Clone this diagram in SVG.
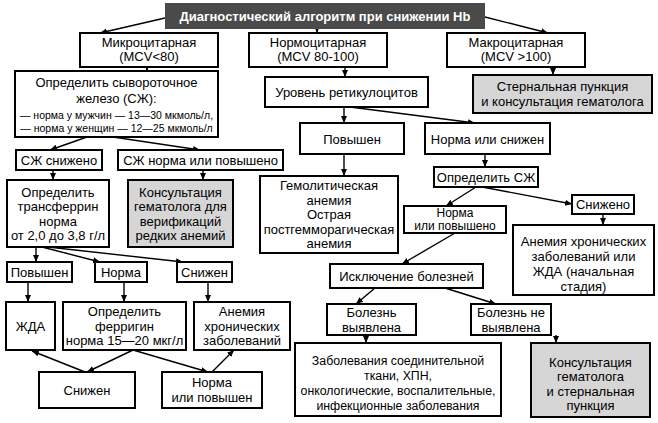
<svg xmlns="http://www.w3.org/2000/svg" width="658" height="423" viewBox="0 0 658 423">
<defs>
<marker id="ah" markerWidth="8" markerHeight="8" refX="7" refY="4" orient="auto" markerUnits="userSpaceOnUse"><path d="M0,1 L7,4 L0,7 z" fill="#000"/></marker>
<style>
rect{fill:#fff;stroke:#000;stroke-width:2}
rect.g{fill:#d6d6d6}
rect.t{fill:#4a4a4a;stroke:none}
text{font-family:"Liberation Sans",Arial,sans-serif;font-size:13px;fill:#000;text-anchor:middle}
text.s{font-size:10.5px}
text.m{font-size:12.3px}
text.n{font-size:12px}
text.h{font-weight:bold;fill:#fff}
#conn line{stroke:#000;stroke-width:1.4;marker-end:url(#ah)}
</style>
</defs>
<rect width="658" height="423" style="fill:#fff;stroke:none"/>
<g id="conn">
<line x1="165" y1="18" x2="100" y2="33"/>
<line x1="317" y1="27" x2="317" y2="33"/>
<line x1="485" y1="17" x2="548" y2="33"/>
<line x1="147" y1="66" x2="147" y2="71"/>
<line x1="345" y1="67" x2="345" y2="77"/>
<line x1="553" y1="67" x2="553" y2="75"/>
<line x1="87" y1="137" x2="50" y2="150"/>
<line x1="113" y1="137" x2="200" y2="150"/>
<line x1="53" y1="170" x2="53" y2="180"/>
<line x1="203" y1="170" x2="203" y2="180"/>
<line x1="344" y1="107" x2="344" y2="123"/>
<line x1="350" y1="107" x2="475" y2="123"/>
<line x1="344" y1="154" x2="344" y2="176"/>
<line x1="485" y1="154" x2="485" y2="167"/>
<line x1="476" y1="187" x2="446" y2="206"/>
<line x1="482" y1="187" x2="572" y2="204"/>
<line x1="603" y1="214" x2="603" y2="225"/>
<line x1="455" y1="233" x2="402" y2="264"/>
<line x1="375" y1="288" x2="356" y2="304"/>
<line x1="445" y1="288" x2="496" y2="304"/>
<line x1="366" y1="335" x2="366" y2="343"/>
<line x1="556" y1="335" x2="556" y2="343"/>
<line x1="36" y1="247" x2="36" y2="262"/>
<line x1="42" y1="247" x2="100" y2="262"/>
<line x1="48" y1="247" x2="183" y2="262"/>
<line x1="28" y1="282" x2="28" y2="302"/>
<line x1="124" y1="282" x2="124" y2="302"/>
<line x1="208" y1="282" x2="208" y2="302"/>
<line x1="133" y1="350" x2="87" y2="372"/>
<line x1="85" y1="372" x2="32" y2="351"/>
<line x1="133" y1="350" x2="208" y2="372"/>
<line x1="212" y1="372" x2="234" y2="350"/>
</g>
<g id="title"><rect class="t" x="165" y="3" width="320" height="26"/><text class="h" x="325" y="20.5">Диагностический алгоритм при снижении Hb</text></g>
<g id="micro"><rect x="80" y="33" width="138" height="34"/><text x="149" y="46.5">Микроцитарная</text><text x="149" y="61">(MCV&lt;80)</text></g>
<g id="normo"><rect x="249" y="33" width="138" height="34"/><text x="318" y="46.5">Нормоцитарная</text><text x="318" y="61">(MCV 80-100)</text></g>
<g id="macro"><rect x="447" y="33" width="138" height="34"/><text x="516" y="46.5">Макроцитарная</text><text x="516" y="61">(MCV &gt;100)</text></g>
<g id="sternal"><rect class="g" x="473" y="75" width="179" height="38"/><text x="562.5" y="91">Стернальная пункция</text><text x="562.5" y="105.5">и консультация гематолога</text></g>
<g id="iron"><rect x="15" y="71" width="203" height="66"/><text x="116.5" y="87">Определить сывороточное</text><text x="116.5" y="103">железо (СЖ):</text><text class="s" x="116.5" y="119">— норма у мужчин — 13—30 мкмоль/л,</text><text class="s" x="116.5" y="132">— норма у женщин — 12—25 мкмоль/л</text></g>
<g id="retic"><rect x="265" y="77" width="163" height="30"/><text x="346.5" y="96.5">Уровень ретикулоцитов</text></g>
<g id="szhLow"><rect x="16" y="150" width="86" height="20"/><text x="59" y="164.5">СЖ снижено</text></g>
<g id="szhNorm"><rect x="118" y="150" width="165" height="20"/><text x="200.5" y="164.5">СЖ норма или повышено</text></g>
<g id="retUp"><rect x="300" y="123" width="104" height="31"/><text x="352" y="143.5">Повышен</text></g>
<g id="retNorm"><rect x="425" y="123" width="125" height="31"/><text x="487.5" y="143.5">Норма или снижен</text></g>
<g id="transferrin"><rect x="7" y="180" width="102" height="67"/><text x="58" y="196.5">Определить</text><text x="58" y="211">трансферрин</text><text x="58" y="225.5">норма</text><text x="58" y="240">от 2,0 до 3,8 г/л</text></g>
<g id="consult1"><rect class="g" x="128" y="180" width="105" height="67"/><text x="180.5" y="196.5">Консультация</text><text x="180.5" y="211">гематолога для</text><text x="180.5" y="225.5">верификаций</text><text x="180.5" y="240">редких анемий</text></g>
<g id="hemol"><rect x="260" y="176" width="138" height="77"/><text x="329" y="190">Гемолитическая</text><text x="329" y="204.5">анемия</text><text x="329" y="219">Острая</text><text x="329" y="233.5">постгемморагическая</text><text x="329" y="248">анемия</text></g>
<g id="detSzh"><rect x="434" y="167" width="104" height="20"/><text x="486" y="181.5">Определить СЖ</text></g>
<g id="rLow"><rect x="572" y="195" width="62" height="19"/><text x="603" y="209">Снижено</text></g>
<g id="rNormUp"><rect x="404" y="206" width="102" height="27"/><text class="n" x="455" y="216.5">Норма</text><text class="n" x="455" y="230">или повышено</text></g>
<g id="chronicZhda"><rect x="513" y="225" width="141" height="70"/><text x="583.5" y="245.5">Анемия хронических</text><text x="583.5" y="260.5">заболеваний или</text><text x="583.5" y="275.5">ЖДА (начальная</text><text x="583.5" y="290.5">стадия)</text></g>
<g id="exclusion"><rect x="330" y="264" width="153" height="24"/><text x="406.5" y="280.5">Исключение болезней</text></g>
<g id="found"><rect x="327" y="304" width="89" height="31"/><text x="371.5" y="317">Болезнь</text><text x="371.5" y="331.5">выявлена</text></g>
<g id="notFound"><rect x="471" y="304" width="80" height="31"/><text x="511" y="317">Болезнь не</text><text x="511" y="331.5">выявлена</text></g>
<g id="diseases"><rect x="295" y="343" width="206" height="73"/><text class="m" x="398" y="364.5">Заболевания соединительной</text><text class="m" x="398" y="379.5">ткани, ХПН,</text><text class="m" x="398" y="394.5">онкологические, воспалительные,</text><text class="m" x="398" y="409.5">инфекционные заболевания</text></g>
<g id="consult2"><rect class="g" x="531" y="343" width="119" height="74"/><text x="590.5" y="366.5">Консультация</text><text x="590.5" y="381">гематолога</text><text x="590.5" y="395.5">и стернальная</text><text x="590.5" y="410">пункция</text></g>
<g id="tUp"><rect x="7" y="262" width="65" height="20"/><text x="39.5" y="276.5">Повышен</text></g>
<g id="tNorm"><rect x="95" y="262" width="52" height="20"/><text x="121" y="276.5">Норма</text></g>
<g id="tLow"><rect x="177" y="262" width="55" height="20"/><text x="204.5" y="276.5">Снижен</text></g>
<g id="zhda"><rect x="6" y="302" width="49" height="48"/><text x="30.5" y="330.5">ЖДА</text></g>
<g id="ferritin"><rect x="63" y="302" width="123" height="48"/><text x="124.5" y="316">Определить</text><text x="124.5" y="330.5">ферригин</text><text x="124.5" y="345">норма 15—20 мкг/л</text></g>
<g id="chronic"><rect x="194" y="302" width="96" height="48"/><text x="242" y="316">Анемия</text><text x="242" y="330.5">хронических</text><text x="242" y="345">заболеваний</text></g>
<g id="fLow"><rect x="39" y="372" width="96" height="36"/><text x="87" y="394.5">Снижен</text></g>
<g id="fNormUp"><rect x="162" y="372" width="100" height="36"/><text x="212" y="386.5">Норма</text><text x="212" y="401.5">или повышен</text></g>
</svg>
